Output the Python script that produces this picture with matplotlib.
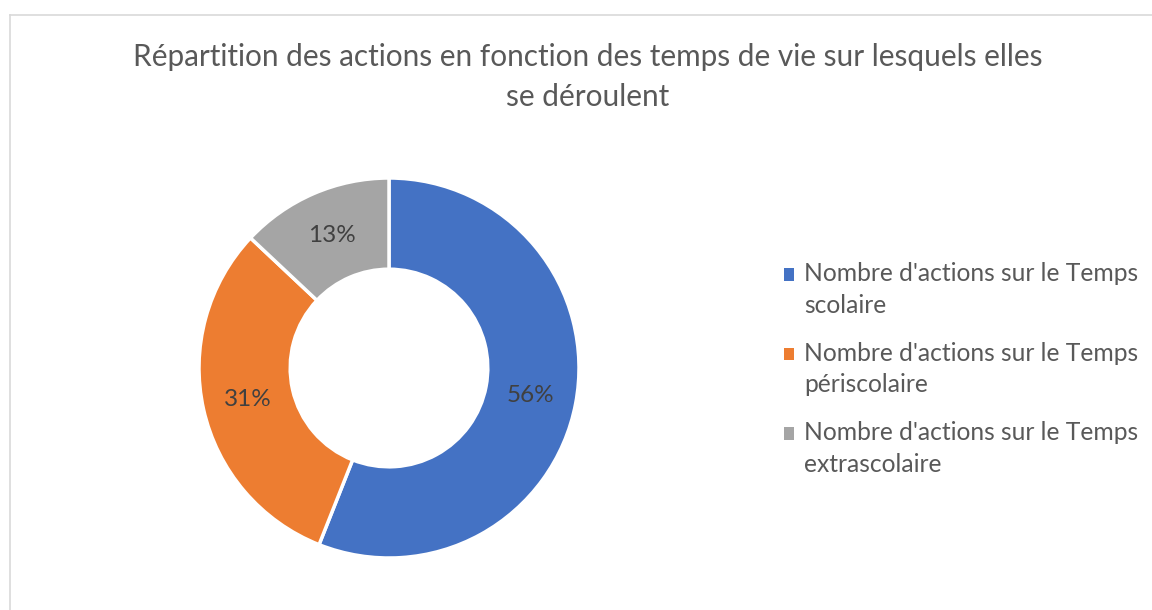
import matplotlib.pyplot as plt
from matplotlib.patches import Patch, Rectangle
from matplotlib.legend_handler import HandlerPatch
from matplotlib.lines import Line2D

plt.rcParams['font.family'] = ['Lato', 'DejaVu Sans']

categories = [
    "Nombre d'actions sur le Temps\nscolaire",
    "Nombre d'actions sur le Temps\npériscolaire",
    "Nombre d'actions sur le Temps\nextrascolaire",
]
values = [56, 31, 13]
colors = ['#4472C4', '#ED7D31', '#A5A5A5']
title = "Répartition des actions en fonction des temps de vie sur lesquels elles\nse déroulent"

W, H = 1152, 610
fig = plt.figure(figsize=(W / 100, H / 100), dpi=100)

# pie axes: centre (389, 368) px, radius 190 px
cx, cy, r = 389, 368, 190
ax = fig.add_axes([(cx - r) / W, (H - cy - r) / H, 2 * r / W, 2 * r / H])
ring = 0.48
wedges, texts, autotexts = ax.pie(
    values, colors=colors, startangle=90, counterclock=False,
    radius=1, autopct='%1.0f%%', pctdistance=1 - ring / 2,
    wedgeprops=dict(width=ring, edgecolor='white', linewidth=2.5),
    textprops=dict(color='#404040', fontsize=17.5))
ax.set_xlim(-1.0, 1.0)
ax.set_ylim(-1.0, 1.0)
ax.set_aspect('equal')
ax.axis('off')

fig.text(588 / W, 1 - 43 / H, title, ha='center', va='top',
         fontsize=21.4, color='#595959', linespacing=1.52)


# legend squares sit on the first line of each two-line label
def top_square(legend, orig_handle, xdescent, ydescent, width, height, fontsize):
    return Rectangle((-xdescent, -ydescent + 11.3), width, height)


handles = [Patch(facecolor=c, edgecolor='none') for c in colors]
leg = fig.legend(handles, categories, loc='upper left',
                 bbox_to_anchor=(762 / W, 1 - 240 / H), frameon=False,
                 fontsize=17.7, labelcolor='#595959', handlelength=0.4,
                 handleheight=0.4, handletextpad=0.4, labelspacing=1.02,
                 handler_map={Patch: HandlerPatch(patch_func=top_square)})
for t in leg.get_texts():
    t.set_linespacing(1.45)

# chart border (only top and left are visible in the crop)
border = '#D9D9D9'
fig.add_artist(Line2D([10 / W, 10 / W], [0, 1 - 15 / H], color=border, lw=1.2))
fig.add_artist(Line2D([10 / W, 1], [1 - 15 / H, 1 - 15 / H], color=border, lw=1.2))

fig.savefig('out.png', dpi=100, facecolor='white')
